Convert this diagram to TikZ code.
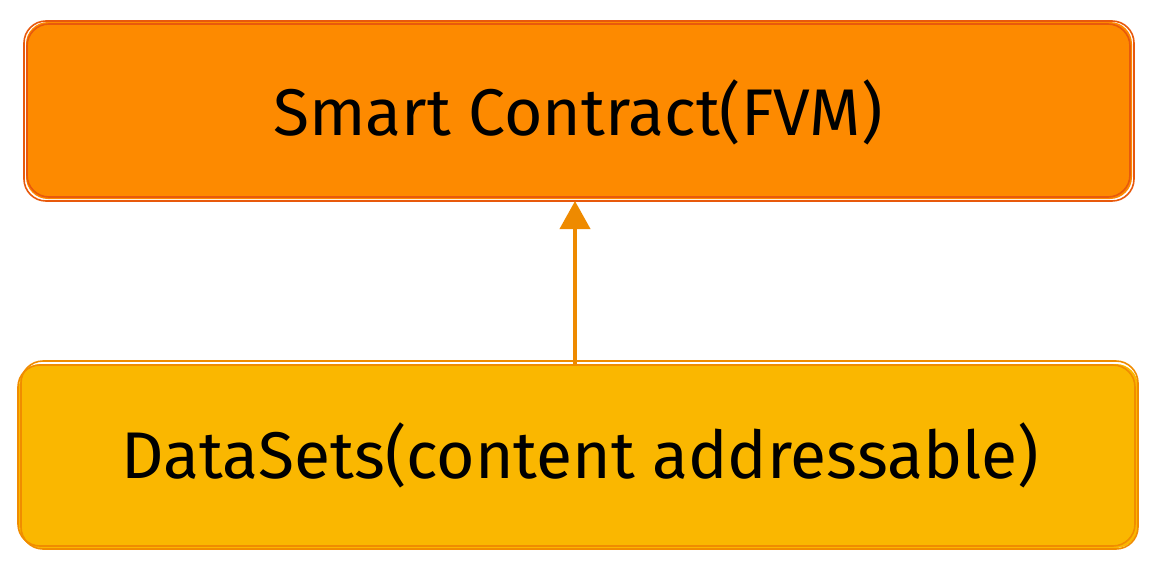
\documentclass[tikz,border=0pt]{standalone}
\usepackage{fontspec}
\setmainfont{Fira Sans}
\usetikzlibrary{arrows.meta}
\definecolor{topfill}{HTML}{FD8A00}
\definecolor{topline}{HTML}{E8590C}
\definecolor{botfill}{HTML}{FAB700}
\definecolor{botline}{HTML}{F08C00}
\definecolor{arrowc}{HTML}{EE8A00}
\tikzset{
  boxlabel/.style={font=\fontsize{66}{76}\selectfont, text=black},
  sketch/.style={line width=1.6pt, rounded corners=22pt},
  conn/.style={draw=arrowc, line width=4pt, -{Triangle[length=28pt,width=30pt]}}
}
\begin{document}
\begin{tikzpicture}[x=1pt,y=-1pt]
\useasboundingbox (0,0) rectangle (1158,562);
% top box
\fill[topfill, rounded corners=22pt] (26,22) rectangle (1132,199);
\draw[sketch, topline] (24,21) rectangle (1134,201);
\draw[sketch, topline] (27,24) rectangle (1130,197);
\node[boxlabel] (top) at (578,112) {Smart Contract(FVM)};
\coordinate (topb) at (575,201);
% bottom box
\fill[botfill, rounded corners=22pt] (19,364) rectangle (1138,548);
\draw[sketch, botline] (21,361) rectangle (1138,549);
\draw[sketch, botline] (18,365) rectangle (1135,546);
\node[boxlabel] (bot) at (580,455) {DataSets(content addressable)};
\coordinate (bott) at (575,364);
% arrow
\draw[conn] (bott) -- (topb);
\end{tikzpicture}
\end{document}
